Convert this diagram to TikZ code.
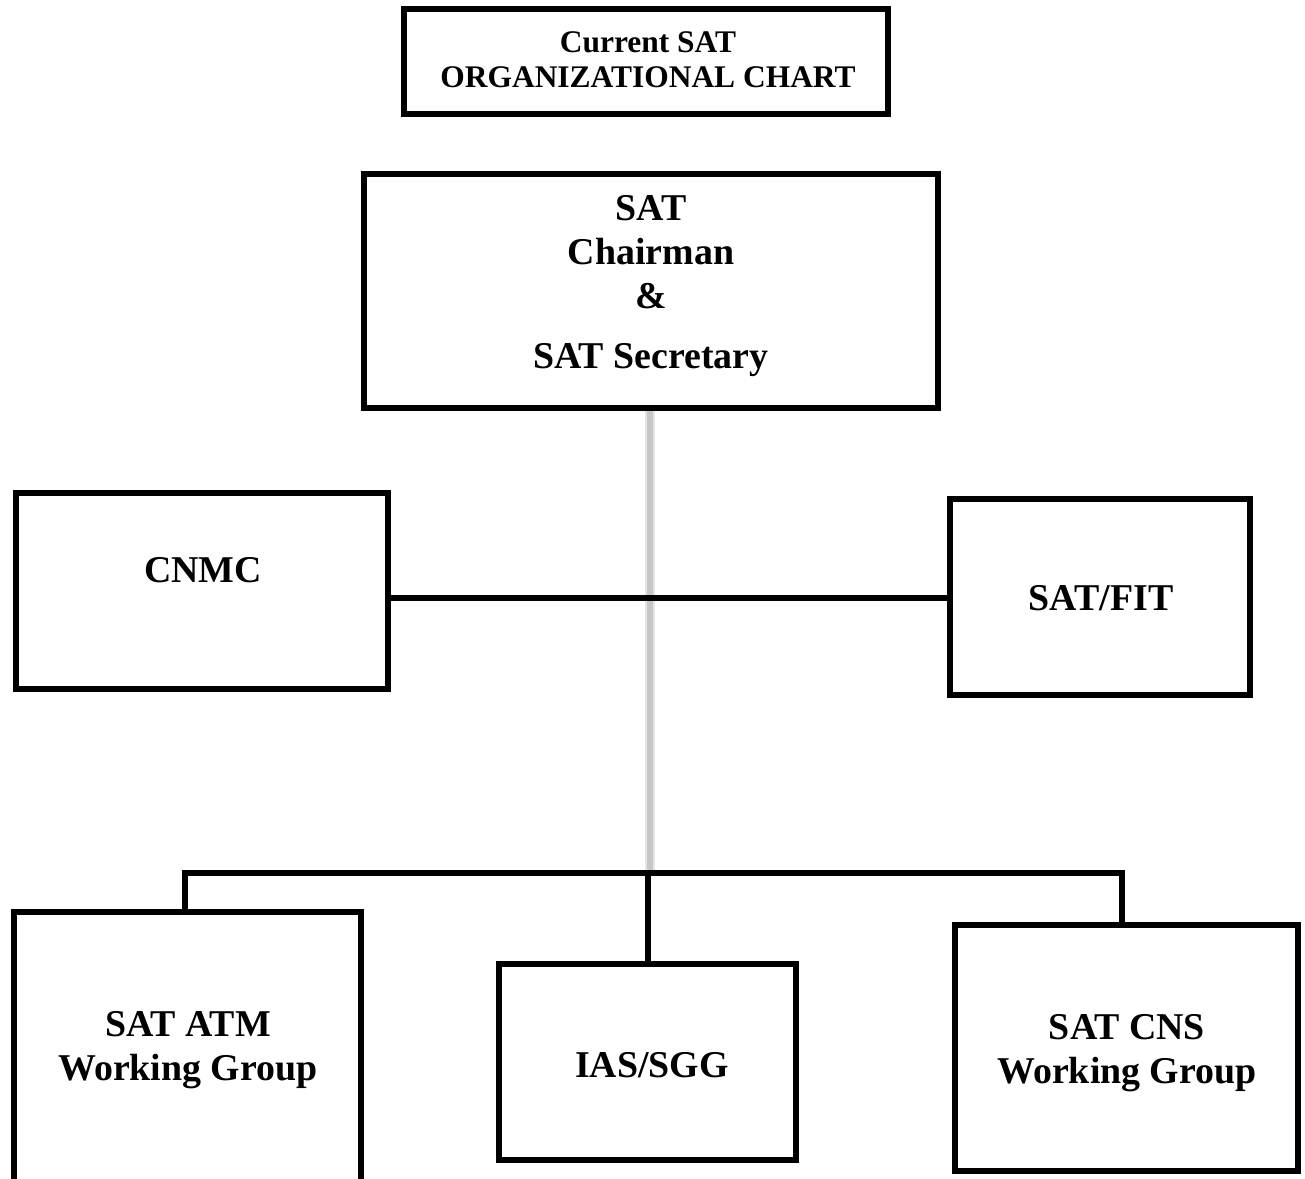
\documentclass[tikz,border=0pt]{standalone}
\usepackage{fontspec}
\setmainfont{Liberation Serif}
\begin{document}
\begin{tikzpicture}[x=0.75pt,y=-0.75pt,
  box/.style={draw=black, line width=3.8pt, rectangle, inner sep=0pt},
  conn/.style={draw=black, line width=4.2pt},
  txt/.style={font=\bfseries\fontsize{28.4pt}{33pt}\selectfont, align=center, inner sep=0pt},
  ttl/.style={font=\bfseries\fontsize{23.6pt}{26.2pt}\selectfont, align=center, inner sep=0pt}]
\useasboundingbox (0,0) rectangle (1305,1178);
\clip (0,0) rectangle (1305,1178);
\fill[white] (0,0) rectangle (1305,1178);
% boxes
\node[box, minimum width=363pt, minimum height=78.75pt] (title) at (646,61.5) {};
\node[box, minimum width=430.5pt, minimum height=175.5pt] (chair) at (651,291) {};
\node[box, minimum width=279pt, minimum height=147pt] (cnmc) at (202,591) {};
\node[box, minimum width=225pt, minimum height=147pt] (fit) at (1100,597) {};
\node[box, minimum width=260.25pt, minimum height=253.5pt] (atm) at (187.5,1081) {};
\node[box, minimum width=222.75pt, minimum height=147pt] (ias) at (647.5,1062) {};
\node[box, minimum width=257.25pt, minimum height=184.5pt] (cns) at (1126.5,1048) {};
% texts
\node[ttl] (title-t) at (648,60) {Current SAT\\ORGANIZATIONAL CHART};
\node[txt] (chair-t) at (651,286) {SAT\\Chairman\\\&\\[12pt]SAT Secretary};
\node[txt] (cnmc-t) at (203,570) {CNMC};
\node[txt] (fit-t) at (1101,598) {SAT/FIT};
\node[txt] (atm-t) at (188,1050) {SAT ATM\\Working Group};
\node[txt] (ias-t) at (652,1065) {IAS/SGG};
\node[txt] (cns-t) at (1127,1053) {SAT CNS\\Working Group};
% coordinates
\coordinate (bar) at (650,598);
\coordinate (busL) at (185,873);
\coordinate (busM) at (648,873);
\coordinate (busR) at (1122,873);
\coordinate (grayEnd) at (650,873);
% gray line
\draw[line width=7.5pt, color=black!10] (chair.south -| grayEnd) -- (grayEnd);
\draw[line width=4.5pt, color=black!22] (chair.south -| grayEnd) -- (grayEnd);
% connectors
\draw[conn] (cnmc.east |- bar) -- (fit.west |- bar);
\draw[conn] (atm.north -| busL) -- (busL) -- (busR) -- (cns.north -| busR);
\draw[conn] (busM) -- (ias.north -| busM);
\end{tikzpicture}
\end{document}
